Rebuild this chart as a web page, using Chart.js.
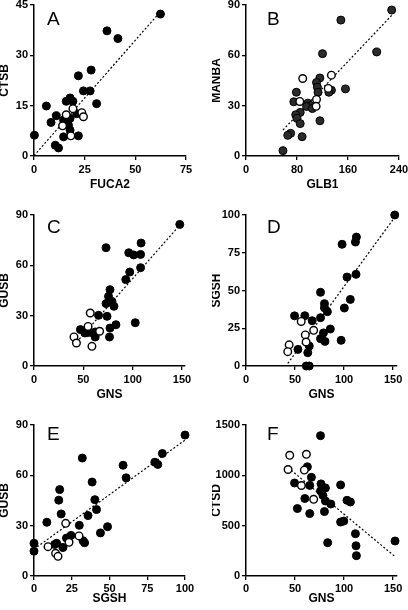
<!DOCTYPE html>
<html>
<head>
<meta charset="utf-8">
<script src="https://cdn.jsdelivr.net/npm/chart.js@4.4.1/dist/chart.umd.min.js"></script>
<style>
  html, body { margin: 0; padding: 0; background: #fff; }
  body { width: 408px; height: 610px; position: relative; overflow: hidden; }
  canvas { position: absolute; }
</style>
</head>
<body>
<canvas id="cA"></canvas>
<canvas id="cB"></canvas>
<canvas id="cC"></canvas>
<canvas id="cD"></canvas>
<canvas id="cE"></canvas>
<canvas id="cF"></canvas>
<script>
// values, [x, y]
const A_FILLED = [[62.4,42.3],[36,37.3],[41.4,35],[28.2,25.6],[21.9,23.9],[24.4,19.4],[27.7,19.4],[30.9,15.6],[17.8,17.3],[19.2,16.3],[15.9,16.3],[6.1,14.9],[11,12],[21.1,12.6],[14.6,10.7],[17.8,11.2],[8.4,10],[17,9.2],[17.8,7.7],[14.6,5.7],[21.9,6],[0.2,6.2],[10.5,3.2],[12.1,2.4]];
const A_OPEN = [[19.2,14.1],[23.6,12.9],[24.4,11.7],[15.9,12.3],[14.1,9],[18.2,6]];
const A_FIT = [[0,0.1],[62.4,43]];

const B_FILLED = [[228.5,87],[148.8,81],[205,62],[120,61],[156,40],[115.8,46.5],[110.6,43.8],[112,41],[113,38],[134,39.2],[130,38],[79,38],[75,32.3],[97,31.5],[101,30],[95,29.5],[104,28.3],[85,26],[78,24.6],[80,22.4],[85,19.3],[116,21],[88,11.5],[70,13.5],[65.5,12.3],[58,3.2]];
const B_OPEN = [[89,46.2],[134,48.2],[129,40.3],[84.4,32.5],[110.6,33.7],[110,29.6]];
const B_FIT = [[58,15.5],[229,84]];

const C_FILLED = [[147.7,84.4],[108.5,73.3],[73,70.5],[96,67.5],[101,66.2],[108,66.5],[108,58.6],[97,56],[93,51.5],[77,45.5],[75.5,41.5],[79,38.5],[73,37.2],[81,35.6],[65.4,30.2],[74,29.6],[102.6,25.8],[83,24.6],[77,22.6],[76.5,17.3],[47,21.7],[51.5,19.7],[55,20],[62,20.3],[62,17.3],[60,19.5]];
const C_OPEN = [[57,31.6],[54.8,23.6],[66.5,20.7],[40.5,17.3],[43,13.7],[58.7,11.7]];
const C_FIT = [[40.5,12.4],[147.7,83.9]];

const D_FILLED = [[151.7,100],[112.6,85.4],[111.6,82.1],[98,80.6],[112.2,60.7],[103,58.9],[106.4,44.1],[100.3,38.4],[76,48.8],[80,41.3],[83,36],[80,38.5],[76,32],[67.5,30],[49.5,33.2],[60,33.3],[86,24.5],[79,21.9],[76,18.1],[80.5,16.3],[97,17],[64.5,13.2],[53,11],[63,8.8],[61.5,0],[64.5,0]];
const D_OPEN = [[56.3,29.5],[69,23.6],[60.5,20.6],[61.3,15.9],[44,14],[42.6,9.5]];
const D_FIT = [[42.6,1.7],[151.7,98.5]];

const E_FILLED = [[100,84],[85,73],[80,67.8],[82,66.5],[32,70.3],[59,66],[61,58.5],[38.5,56],[17,51.5],[16.4,45.2],[40.3,45.5],[18,37],[41.4,39.6],[35.8,36],[8.5,32],[30,30.2],[48.7,29.4],[44,25.7],[24.5,24.2],[21.5,22.6],[32.5,21],[33.5,19.8],[19.2,17],[13.7,18.8],[15,19.5],[0,19.5],[0,14.8]];
const E_OPEN = [[21,31.4],[29.8,23.9],[23.2,20.1],[9.3,17.5],[14.3,13.5],[15.9,11.7]];
const E_FIT = [[0,16],[100,81]];

const F_FILLED = [[76,1394],[152,348],[62.6,1085],[66.7,980],[49.5,924],[65,900],[76.5,915],[81,875],[76,845],[78.5,800],[96.5,905],[60,770],[81,745],[86.5,715],[80,640],[52.4,670],[65,620],[103,752],[106.5,735],[99.7,546],[96.5,536],[111.6,420],[112.2,300],[112.6,202],[83.3,331]];
const F_OPEN = [[44.6,1199],[61.6,1209],[42.9,1058],[59.5,1052],[56.5,899],[69,762]];
const F_FIT = [[42.9,1076],[152,193]];

// tick labels
const A_XTICKS = [0, 25, 50, 75],   A_YTICKS = [0, 15, 30, 45];
const B_XTICKS = [0, 80, 160, 240], B_YTICKS = [0, 30, 60, 90];
const C_XTICKS = [0, 50, 100, 150], C_YTICKS = [0, 30, 60, 90];
const D_XTICKS = [0, 50, 100, 150], D_YTICKS = [0, 25, 50, 75, 100];
const E_XTICKS = [0, 25, 50, 75, 100], E_YTICKS = [0, 30, 60, 90];
const F_XTICKS = [0, 50, 100, 150], F_YTICKS = [0, 500, 1000, 1500];

const FONT = '"Liberation Sans", Arial, Helvetica, sans-serif';
const Y_AXIS_W = 34;
const TOP_PAD = 14;
const RIGHT_PAD = 18;
const PLOT_H = 151;

const panelLetter = {
  id: "panelLetter",
  afterDraw(chart, args, opts) {
    const { ctx, chartArea } = chart;
    ctx.save();
    ctx.font = "19px " + FONT;
    ctx.fillStyle = "#000";
    ctx.textBaseline = "alphabetic";
    ctx.fillText(opts.text, chartArea.left + opts.dx, chartArea.top + opts.dy);
    ctx.restore();
  },
};

const pts = (arr) => arr.map(([x, y]) => ({ x, y }));

function axis(title, ticks, max, opts) {
  return {
    type: "linear",
    min: 0,
    max,
    afterBuildTicks: (s) => { s.ticks = ticks.map((v) => ({ value: v })); },
    afterFit: opts.afterFit,
    ticks: {
      color: "#000",
      padding: opts.tickPad,
      font: { family: FONT, size: 11, weight: "bold" },
      callback: (v) => String(v),
    },
    grid: {
      display: true,
      drawOnChartArea: false,
      drawTicks: true,
      tickLength: 4,
      color: "#000",
      lineWidth: 1.3,
    },
    border: { display: true, color: "#000", width: 1.5 },
    title: {
      display: true,
      text: title,
      color: "#000",
      font: { family: FONT, size: 12, weight: "bold" },
      padding: opts.titlePad,
    },
  };
}

function panel(p) {
  const canvas = document.getElementById(p.id);
  const short = p.xAxisH < 40;
  canvas.width = Y_AXIS_W + p.plotW + RIGHT_PAD;
  canvas.height = TOP_PAD + PLOT_H + p.xAxisH;
  canvas.style.left = p.left + "px";
  canvas.style.top = (p.chartTop - TOP_PAD) + "px";

  new Chart(canvas, {
    type: "scatter",
    data: {
      datasets: [
        {
          data: pts(p.open),
          backgroundColor: "#fff",
          borderColor: "#000",
          borderWidth: 1.4,
          pointRadius: 3.8,
          clip: false,
        },
        {
          data: pts(p.filled),
          backgroundColor: p.fill || "#000",
          borderColor: "#000",
          borderWidth: 1,
          pointRadius: 4,
          clip: false,
        },
        {
          type: "line",
          data: pts(p.fit),
          borderColor: "#000",
          borderWidth: 1.2,
          borderDash: [2, 2],
          pointRadius: 0,
          fill: false,
        },
      ],
    },
    options: {
      responsive: false,
      animation: false,
      layout: { padding: { top: TOP_PAD, right: RIGHT_PAD, left: 0, bottom: 0 } },
      plugins: {
        legend: { display: false },
        tooltip: { enabled: false },
        panelLetter: { text: p.letter, dx: p.letterDx, dy: p.letterDy },
      },
      scales: {
        x: axis(p.xTitle, p.xTicks, p.xMax, {
          afterFit: (s) => { s.height = p.xAxisH; },
          tickPad: short ? 2 : 3,
          titlePad: { top: 0, bottom: short ? 4.3 : 7.8 },
        }),
        y: axis(p.yTitle, p.yTicks, p.yMax, {
          afterFit: (s) => { s.width = Y_AXIS_W; },
          tickPad: 2,
          titlePad: { top: -2.4, bottom: 0 },
        }),
      },
    },
    plugins: [panelLetter],
  });
}

[
  { id: "cA", left: 0, chartTop: 5, plotW: 152, xAxisH: 44, xMax: 75, yMax: 45,
    xTitle: "FUCA2", yTitle: "CTSB", letter: "A", letterDx: 13, letterDy: 20,
    filled: A_FILLED, open: A_OPEN, fit: A_FIT, xTicks: A_XTICKS, yTicks: A_YTICKS },
  { id: "cB", left: 212, chartTop: 5, plotW: 153, xAxisH: 44, xMax: 240, yMax: 90,
    xTitle: "GLB1", yTitle: "MANBA", letter: "B", letterDx: 21, letterDy: 20, fill: "#2b2b2b",
    filled: B_FILLED, open: B_OPEN, fit: B_FIT, xTicks: B_XTICKS, yTicks: B_YTICKS },
  { id: "cC", left: 0, chartTop: 215, plotW: 151, xAxisH: 44, xMax: 153, yMax: 90,
    xTitle: "GNS", yTitle: "GUSB", letter: "C", letterDx: 13, letterDy: 18,
    filled: C_FILLED, open: C_OPEN, fit: C_FIT, xTicks: C_XTICKS, yTicks: C_YTICKS },
  { id: "cD", left: 212, chartTop: 215, plotW: 151, xAxisH: 44, xMax: 154, yMax: 100,
    xTitle: "GNS", yTitle: "SGSH", letter: "D", letterDx: 21, letterDy: 18,
    filled: D_FILLED, open: D_OPEN, fit: D_FIT, xTicks: D_XTICKS, yTicks: D_YTICKS },
  { id: "cE", left: 0, chartTop: 425, plotW: 151, xAxisH: 34, xMax: 100, yMax: 90,
    xTitle: "SGSH", yTitle: "GUSB", letter: "E", letterDx: 13, letterDy: 15,
    filled: E_FILLED, open: E_OPEN, fit: E_FIT, xTicks: E_XTICKS, yTicks: E_YTICKS },
  { id: "cF", left: 212, chartTop: 425, plotW: 151, xAxisH: 34, xMax: 154, yMax: 1500,
    xTitle: "GNS", yTitle: "CTSD", letter: "F", letterDx: 21, letterDy: 15,
    filled: F_FILLED, open: F_OPEN, fit: F_FIT, xTicks: F_XTICKS, yTicks: F_YTICKS },
].forEach(panel);
</script>
</body>
</html>
